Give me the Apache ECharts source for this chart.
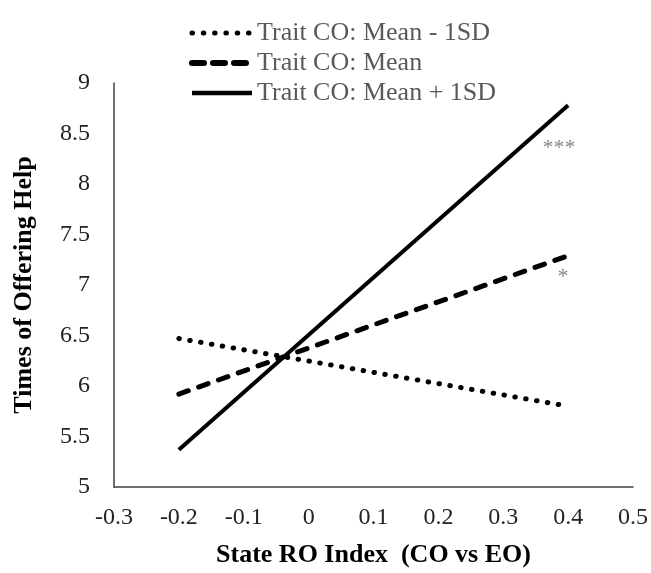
<!DOCTYPE html>
<html>
<head>
<meta charset="utf-8">
<script src="https://cdn.jsdelivr.net/npm/echarts@6/dist/echarts.min.js"></script>
<style>html,body{margin:0;padding:0;background:#fff;}#c{width:651px;height:573px;}</style>
</head>
<body>
<div id="c"></div>
<script>
const xValues = [-0.2, 0.4];
const seriesNames = ['Trait CO: Mean - 1SD', 'Trait CO: Mean', 'Trait CO: Mean + 1SD'];
const lowCO = [6.47, 5.80];
const meanCO = [5.92, 7.29];
const highCO = [5.37, 8.78];
const sigLabels = ['***', '*'];
const sigX = [0.386, 0.392];
const sigY = [8.35, 7.08];

const font = 'Liberation Serif, Times New Roman, serif';
const pair = (ys) => xValues.map((x, i) => [x, ys[i]]);

const dottedStyle = {color: '#000', width: 5, type: [0.5, 10.5], cap: 'round'};
const dashedStyle = {color: '#000', width: 5, type: [10, 11], cap: 'round'};
const solidStyle = {color: '#000', width: 4, type: 'solid'};

const chart = echarts.init(document.getElementById('c'), null, {renderer: 'canvas'});
chart.setOption({
  animation: false,
  backgroundColor: '#fff',
  grid: {left: 114, right: 18, top: 83, bottom: 81},
  legend: {
    orient: 'vertical', left: 184, top: 15,
    itemWidth: 60, itemHeight: 10, itemGap: 4,
    itemStyle: {opacity: 0},
    data: [
      {name: seriesNames[0], lineStyle: {color: '#000', width: 5, type: [0.5, 10.8], cap: 'round'}, itemStyle: {opacity: 0}},
      {name: seriesNames[1], lineStyle: {color: '#000', width: 6, type: [12, 9], cap: 'round'}, itemStyle: {opacity: 0}},
      {name: seriesNames[2], lineStyle: {color: '#000', width: 4.5, type: 'solid'}, itemStyle: {opacity: 0}}
    ],
    textStyle: {fontFamily: font, fontSize: 26, color: '#595959', lineHeight: 26}
  },
  xAxis: {
    type: 'value', min: -0.3, max: 0.5, interval: 0.1,
    name: 'State RO Index  (CO vs EO)', nameLocation: 'middle', nameGap: 55,
    nameTextStyle: {fontFamily: font, fontSize: 26, fontWeight: 'bold', color: '#000'},
    axisLine: {show: true, onZero: false, lineStyle: {color: '#404040', width: 1.5}},
    axisTick: {show: false}, splitLine: {show: false},
    axisLabel: {fontFamily: font, fontSize: 24, color: '#222', margin: 19}
  },
  yAxis: {
    type: 'value', min: 5, max: 9, interval: 0.5,
    name: 'Times of Offering Help', nameLocation: 'middle', nameGap: 77,
    nameTextStyle: {fontFamily: font, fontSize: 26, fontWeight: 'bold', color: '#000'},
    axisLine: {show: true, onZero: false, lineStyle: {color: '#404040', width: 1.5}},
    axisTick: {show: false}, splitLine: {show: false},
    axisLabel: {fontFamily: font, fontSize: 24, color: '#222', margin: 24}
  },
  series: [
    {name: seriesNames[0], type: 'line', data: pair(lowCO), symbol: 'none',
     lineStyle: dottedStyle, itemStyle: {color: '#000'}},
    {name: seriesNames[1], type: 'line', data: pair(meanCO), symbol: 'none',
     lineStyle: dashedStyle, itemStyle: {color: '#000'}},
    {name: seriesNames[2], type: 'line', data: pair(highCO), symbol: 'none',
     lineStyle: solidStyle, itemStyle: {color: '#000'}},
    {name: 'sig', type: 'scatter', symbolSize: 0, silent: true,
     data: sigX.map((x, i) => ({value: [x, sigY[i]], label: {formatter: sigLabels[i]}})),
     label: {show: true, position: 'inside', fontFamily: font, fontSize: 22, color: '#666'}}
  ]
});
</script>
</body>
</html>
